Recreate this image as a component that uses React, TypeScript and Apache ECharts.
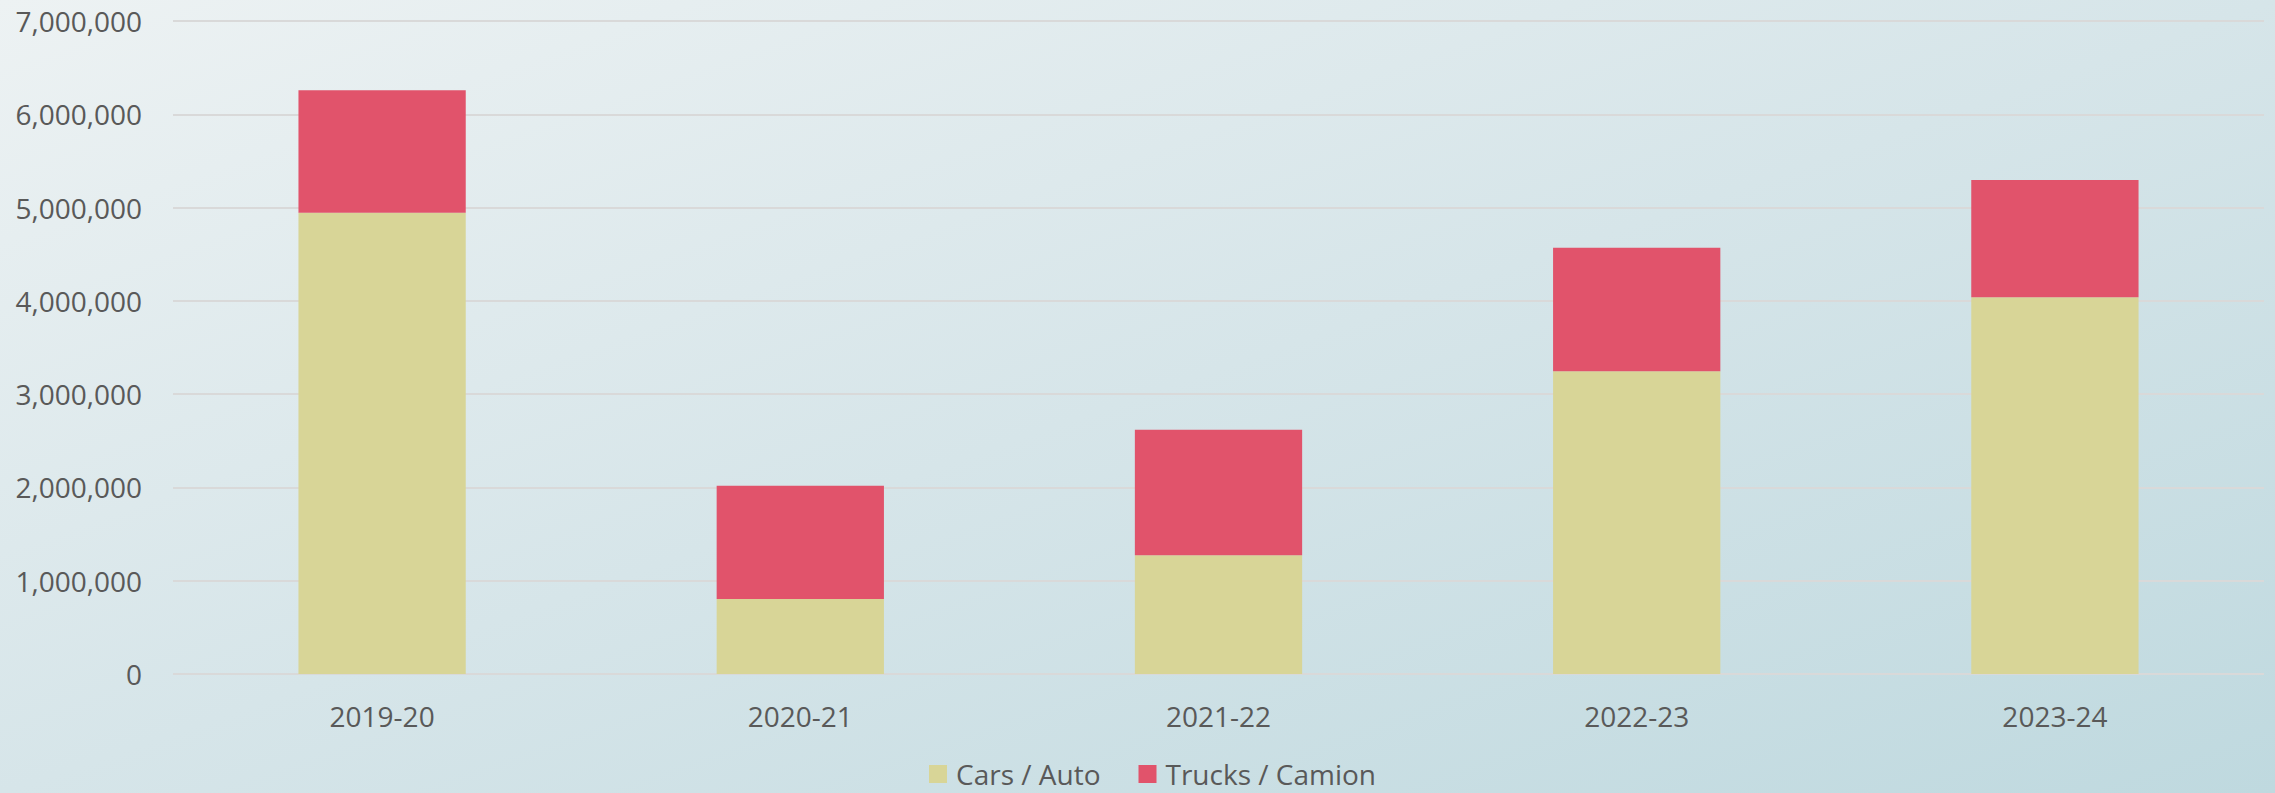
import React, { useEffect, useRef } from "react";
import * as echarts from "echarts";

const categories = ["2019-20", "2020-21", "2021-22", "2022-23", "2023-24"];
const carsValues = [4945000, 804000, 1272000, 3245000, 4038000];
const trucksValues = [1312000, 1214000, 1347000, 1325000, 1257000];
const seriesNames = ["Cars / Auto", "Trucks / Camion"];

const FONT = "'Open Sans', 'Noto Sans', sans-serif";
const TEXT = "#595959";

export default function App() {
  const ref = useRef<HTMLDivElement>(null);
  useEffect(() => {
    document.body.style.margin = "0";
    const chart = echarts.init(ref.current!, null, { renderer: "svg" });
    chart.setOption({
      animation: false,
      backgroundColor: new echarts.graphic.LinearGradient(0, 0, 1, 1, [
        { offset: 0, color: "#edf2f3" },
        { offset: 0.5, color: "#d6e5e9" },
        { offset: 1, color: "#bfd9df" },
      ]),
      textStyle: { fontFamily: FONT },
      grid: { left: 173, right: 11, top: 21, bottom: 119 },
      legend: {
        top: 760,
        left: 929,
        padding: 0,
        itemWidth: 18,
        itemHeight: 18,
        itemGap: 38,
        icon: "rect",
        textStyle: { color: TEXT, fontSize: 28, fontFamily: FONT, lineHeight: 28, padding: [0, 0, 0, 4] },
        data: seriesNames,
      },
      xAxis: {
        type: "category",
        data: categories,
        axisLine: { show: false },
        axisTick: { show: false },
        axisLabel: { color: TEXT, fontSize: 28, fontFamily: FONT, margin: 28, lineHeight: 28 },
      },
      yAxis: {
        type: "value",
        min: 0,
        max: 7000000,
        interval: 1000000,
        axisLine: { show: false },
        axisTick: { show: false },
        splitLine: { lineStyle: { color: "#d9d9d9", width: 2 } },
        axisLabel: {
          color: TEXT,
          fontSize: 28,
          fontFamily: FONT,
          margin: 31,
          formatter: (v: number) => v.toLocaleString("en-US"),
        },
      },
      series: [
        {
          name: seriesNames[0],
          type: "bar",
          stack: "total",
          data: carsValues,
          barWidth: "40%",
          itemStyle: { color: "#d8d597" },
        },
        {
          name: seriesNames[1],
          type: "bar",
          stack: "total",
          data: trucksValues,
          barWidth: "40%",
          itemStyle: { color: "#e1536b" },
        },
      ],
    });
    return () => chart.dispose();
  }, []);
  return <div ref={ref} style={{ width: 2275, height: 793 }} />;
}
